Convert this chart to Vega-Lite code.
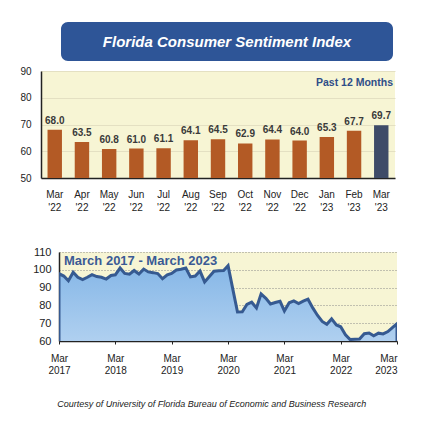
{
  "$schema": "https://vega.github.io/schema/vega-lite/v6.json",
  "padding": {"left": 10, "top": 22, "right": 0, "bottom": 4},
  "background": "white",
  "config": {
    "font": "Liberation Sans",
    "view": {"stroke": null},
    "axis": {"labelFont": "Liberation Sans", "labelColor": "#222", "labelFontSize": 10, "title": null}
  },
  "title": {
    "text": "Courtesy of University of Florida Bureau of Economic and Business Research",
    "orient": "bottom", "anchor": "middle", "offset": 25, "dx": 8,
    "font": "Liberation Sans", "fontSize": 9, "fontStyle": "italic", "fontWeight": "normal", "color": "#222"
  },
  "datasets": {
    "recent": [
      {"month": "Mar '22", "value": 68.0},
      {"month": "Apr '22", "value": 63.5},
      {"month": "May '22", "value": 60.8},
      {"month": "Jun '22", "value": 61.0},
      {"month": "Jul '22", "value": 61.1},
      {"month": "Aug '22", "value": 64.1},
      {"month": "Sep '22", "value": 64.5},
      {"month": "Oct '22", "value": 62.9},
      {"month": "Nov '22", "value": 64.4},
      {"month": "Dec '22", "value": 64.0},
      {"month": "Jan '23", "value": 65.3},
      {"month": "Feb '23", "value": 67.7},
      {"month": "Mar '23", "value": 69.7}
    ],
    "history": [
      {"date": "2017-03-01", "value": 97.8},
      {"date": "2017-04-01", "value": 96.5},
      {"date": "2017-05-01", "value": 93.8},
      {"date": "2017-06-01", "value": 98.6},
      {"date": "2017-07-01", "value": 95.8},
      {"date": "2017-08-01", "value": 94.5},
      {"date": "2017-09-01", "value": 95.8},
      {"date": "2017-10-01", "value": 97.3},
      {"date": "2017-11-01", "value": 96.2},
      {"date": "2017-12-01", "value": 95.8},
      {"date": "2018-01-01", "value": 94.8},
      {"date": "2018-02-01", "value": 96.8},
      {"date": "2018-03-01", "value": 97.2},
      {"date": "2018-04-01", "value": 101.0},
      {"date": "2018-05-01", "value": 98.0},
      {"date": "2018-06-01", "value": 97.5},
      {"date": "2018-07-01", "value": 99.6},
      {"date": "2018-08-01", "value": 97.6},
      {"date": "2018-09-01", "value": 100.4},
      {"date": "2018-10-01", "value": 98.8},
      {"date": "2018-11-01", "value": 98.4},
      {"date": "2018-12-01", "value": 97.9},
      {"date": "2019-01-01", "value": 95.0},
      {"date": "2019-02-01", "value": 97.2},
      {"date": "2019-03-01", "value": 98.0},
      {"date": "2019-04-01", "value": 99.9},
      {"date": "2019-05-01", "value": 100.3},
      {"date": "2019-06-01", "value": 101.0},
      {"date": "2019-07-01", "value": 96.0},
      {"date": "2019-08-01", "value": 96.5},
      {"date": "2019-09-01", "value": 99.3},
      {"date": "2019-10-01", "value": 93.2},
      {"date": "2019-11-01", "value": 96.2},
      {"date": "2019-12-01", "value": 99.2},
      {"date": "2020-01-01", "value": 99.5},
      {"date": "2020-02-01", "value": 99.6},
      {"date": "2020-03-01", "value": 102.3},
      {"date": "2020-04-01", "value": 89.0},
      {"date": "2020-05-01", "value": 76.3},
      {"date": "2020-06-01", "value": 76.4},
      {"date": "2020-07-01", "value": 80.5},
      {"date": "2020-08-01", "value": 81.8},
      {"date": "2020-09-01", "value": 78.6},
      {"date": "2020-10-01", "value": 86.5},
      {"date": "2020-11-01", "value": 84.0},
      {"date": "2020-12-01", "value": 80.8},
      {"date": "2021-01-01", "value": 81.6},
      {"date": "2021-02-01", "value": 82.3},
      {"date": "2021-03-01", "value": 76.9},
      {"date": "2021-04-01", "value": 81.5},
      {"date": "2021-05-01", "value": 82.5},
      {"date": "2021-06-01", "value": 81.0},
      {"date": "2021-07-01", "value": 82.4},
      {"date": "2021-08-01", "value": 83.5},
      {"date": "2021-09-01", "value": 78.6},
      {"date": "2021-10-01", "value": 74.5},
      {"date": "2021-11-01", "value": 71.0},
      {"date": "2021-12-01", "value": 69.4},
      {"date": "2022-01-01", "value": 72.4},
      {"date": "2022-02-01", "value": 69.0},
      {"date": "2022-03-01", "value": 68.0},
      {"date": "2022-04-01", "value": 63.5},
      {"date": "2022-05-01", "value": 60.8},
      {"date": "2022-06-01", "value": 61.0},
      {"date": "2022-07-01", "value": 61.1},
      {"date": "2022-08-01", "value": 64.1},
      {"date": "2022-09-01", "value": 64.5},
      {"date": "2022-10-01", "value": 62.9},
      {"date": "2022-11-01", "value": 64.4},
      {"date": "2022-12-01", "value": 64.0},
      {"date": "2023-01-01", "value": 65.3},
      {"date": "2023-02-01", "value": 67.7},
      {"date": "2023-03-01", "value": 69.7}
    ]
  },
  "spacing": 34,
  "vconcat": [
    {
      "spacing": 5,
      "vconcat": [
        {
          "spacing": 0,
          "hconcat": [
            {
              "width": 51,
              "height": 39,
              "data": {"values": [{"t": ""}]},
              "mark": {"type": "text"},
              "encoding": {"text": {"field": "t"}}
            },
            {
              "width": 332,
              "height": 39,
              "view": {"fill": "#2e5597", "cornerRadius": 7, "stroke": null},
              "data": {"values": [{"title": "Florida Consumer Sentiment Index"}]},
              "mark": {
                "type": "text", "color": "white", "font": "Liberation Sans",
                "fontSize": 15, "fontWeight": "bold", "fontStyle": "italic",
                "align": "center", "baseline": "middle"
              },
              "encoding": {"text": {"field": "title"}}
            }
          ]
        },
        {
          "spacing": 0,
          "hconcat": [
            {
              "width": 9,
              "height": 107,
              "data": {"values": [{"t": ""}]},
              "mark": {"type": "text"},
              "encoding": {"text": {"field": "t"}}
            },
            {
              "width": 354,
              "height": 107,
              "view": {"fill": "#f7f5d4", "stroke": null},
              "title": {
                "text": "Past 12 Months", "anchor": "end", "orient": "top", "frame": "group", "offset": -22, "dx": -2,
                "font": "Liberation Sans", "fontSize": 10.5, "fontWeight": "bold", "color": "#2f4e88"
              },
              "data": {"name": "recent"},
              "encoding": {
                "x": {
                  "field": "month", "type": "nominal", "sort": null,
                  "scale": {"paddingInner": 0.47, "paddingOuter": 0.24},
                  "axis": {
                    "labelAngle": 0, "labelExpr": "split(datum.label, ' ')", "labelLineHeight": 13,
                    "ticks": false, "labelPadding": 11, "domainColor": "#222", "domainWidth": 1.5
                  }
                },
                "y": {
                  "field": "value", "type": "quantitative",
                  "scale": {"domain": [50, 90], "zero": false},
                  "axis": {
                    "values": [50, 60, 70, 80, 90], "ticks": false, "labelPadding": 10,
                    "domainColor": "#222", "domainWidth": 1.5, "grid": true, "gridColor": "#e4e0c2"
                  }
                }
              },
              "layer": [
                {
                  "mark": {"type": "bar", "clip": true},
                  "encoding": {
                    "color": {"condition": {"test": "datum.month === \"Mar '23\"", "value": "#3e4b68"}, "value": "#b35a25"}
                  }
                },
                {
                  "mark": {"type": "text", "baseline": "bottom", "dy": -4, "fontWeight": "bold", "fontSize": 10, "color": "#3a3a3a"},
                  "encoding": {"text": {"field": "value", "type": "quantitative", "format": ".1f"}}
                }
              ]
            }
          ]
        }
      ]
    },
    {
      "spacing": 0,
      "hconcat": [
        {
          "width": 22,
          "height": 89,
          "data": {"values": [{"t": ""}]},
          "mark": {"type": "text"},
          "encoding": {"text": {"field": "t"}}
        },
        {
          "width": 338,
          "height": 89,
          "view": {"fill": "#f7f5d4", "stroke": null},
          "title": {
            "text": "March 2017 - March 2023", "anchor": "start", "orient": "top", "frame": "group", "offset": -22, "dx": 5,
            "font": "Liberation Sans", "fontSize": 13, "fontWeight": "bold", "color": "#3a5a94"
          },
          "data": {"name": "history"},
          "mark": {
            "type": "area", "clip": true, "stroke": "#365a91", "strokeWidth": 3,
            "fill": {
              "gradient": "linear", "x1": 0, "y1": 0, "x2": 0, "y2": 1,
              "stops": [{"offset": 0, "color": "#86b7e7"}, {"offset": 1, "color": "#eaf3fc"}]
            }
          },
          "encoding": {
            "x": {
              "field": "date", "type": "temporal",
              "scale": {"type": "utc", "nice": false, "domain": [{"year": 2017, "month": 3, "date": 1, "utc": true}, {"year": 2023, "month": 3, "date": 1, "utc": true}]},
              "axis": {
                "values": [
                  {"year": 2017, "month": 3, "date": 1, "utc": true},
                  {"year": 2018, "month": 3, "date": 1, "utc": true},
                  {"year": 2019, "month": 3, "date": 1, "utc": true},
                  {"year": 2020, "month": 3, "date": 1, "utc": true},
                  {"year": 2021, "month": 3, "date": 1, "utc": true},
                  {"year": 2022, "month": 3, "date": 1, "utc": true},
                  {"year": 2023, "month": 3, "date": 1, "utc": true}
                ],
                "labelExpr": "[utcFormat(datum.value, '%b'), utcFormat(datum.value, '%Y')]",
                "labelLineHeight": 12, "labelAngle": 0, "labelPadding": 9,
                "labelAlign": {"condition": {"test": "utcyear(datum.value) == 2023", "value": "right"}, "value": "center"},
                "ticks": true, "tickSize": 3, "tickColor": "#222", "domainColor": "#222", "domainWidth": 1.5, "grid": false
              }
            },
            "y": {
              "field": "value", "type": "quantitative",
              "scale": {"domain": [60, 110], "zero": false},
              "axis": {
                "values": [60, 70, 80, 90, 100, 110], "ticks": false, "labelPadding": 8, "labelFontSize": 11,
                "domainColor": "#222", "domainWidth": 1.5, "grid": true, "gridColor": "#8a8a8a", "gridDash": [1, 2]
              }
            }
          }
        }
      ]
    }
  ]
}
